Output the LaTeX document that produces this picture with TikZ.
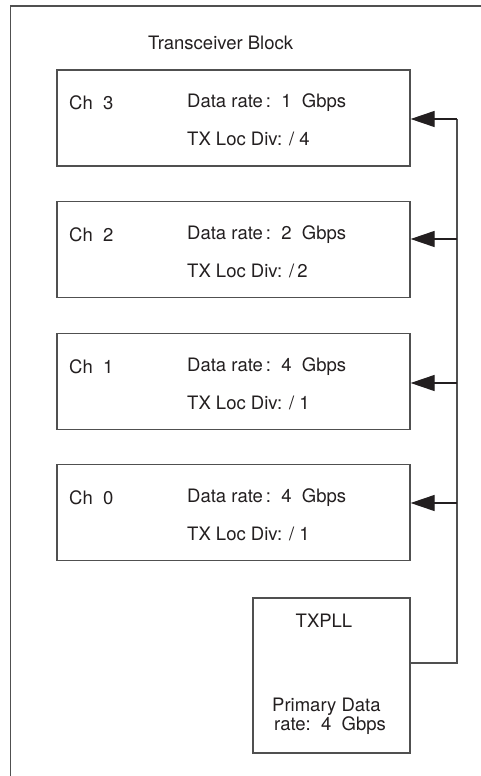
\documentclass[tikz,border=0pt]{standalone}
\usepackage{fontspec}
\setmainfont{TeX Gyre Heros}
\usetikzlibrary{arrows.meta,positioning}
\definecolor{inkc}{HTML}{231F20}
\definecolor{linec}{HTML}{505050}
\tikzset{
  chbox/.style={
    draw=linec,rectangle,line width=1.2pt,
    minimum width=353pt,minimum height=96pt,inner sep=0pt
  },
  pllbox/.style={
    draw=linec,rectangle,line width=1.2pt,
    minimum width=157pt,minimum height=155pt,inner sep=0pt
  },
  lbl/.style={anchor=base west,inner sep=0pt,text=inkc,
    font=\fontsize{18.5}{21}\selectfont},
  wire/.style={draw=linec,line width=1.2pt},
  conn/.style={-{Triangle[length=24pt,width=16pt]},draw=linec,
    line width=1.2pt,color=inkc}
}
\begin{document}
\begin{tikzpicture}[x=1pt,y=-1pt]
\useasboundingbox (0,0) rectangle (481,776);

\draw[wire] (481,6) -- (10.5,6) -- (10.5,776);
\node[lbl] (title) at (148,49) {Transceiver Block};

\node[chbox] (ch3) at (233.5,118) {};
\node[lbl] (ch3name) at (69,109) {Ch\ \ 3};
\node[lbl] (ch3rate) at (187,107) {Data rate\,:\ \ 1\ \ Gbps};
\node[lbl] (ch3div) at (187,145) {TX Loc Div: / 4};

\node[chbox] (ch2) at (233.5,249.5) {};
\node[lbl] (ch2name) at (69,241) {Ch\ \ 2};
\node[lbl] (ch2rate) at (187,239) {Data rate\,:\ \ 2\ \ Gbps};
\node[lbl] (ch2div) at (187,277) {TX Loc Div: /\,2};

\node[chbox] (ch1) at (233.5,381.5) {};
\node[lbl] (ch1name) at (69,373) {Ch\ \ 1};
\node[lbl] (ch1rate) at (187,371) {Data rate\,:\ \ 4\ \ Gbps};
\node[lbl] (ch1div) at (187,409) {TX Loc Div: / 1};

\node[chbox] (ch0) at (233.5,512.5) {};
\node[lbl] (ch0name) at (69,504) {Ch\ \ 0};
\node[lbl] (ch0rate) at (187,502) {Data rate\,:\ \ 4\ \ Gbps};
\node[lbl] (ch0div) at (187,540) {TX Loc Div: / 1};

\node[pllbox] (pll) at (331.5,675.5) {};
\node[lbl,anchor=base] (pllname) at (324,627) {TXPLL};
\node[lbl] (pllrate1) at (272,711) {Primary Data};
\node[lbl] (pllrate2) at (274,730) {rate:\ \ 4\ \ Gbps};

\coordinate (fb) at (457,663);
\coordinate (tap3) at (457,119);
\coordinate (tap2) at (457,239);
\coordinate (tap1) at (457,383);
\coordinate (tap0) at (457,503);

\draw[wire] (fb -| pll.east) -- (fb) -- (tap3);
\draw[conn] (tap3) -- (tap3 -| ch3.east);
\draw[conn] (tap2) -- (tap2 -| ch2.east);
\draw[conn] (tap1) -- (tap1 -| ch1.east);
\draw[conn] (tap0) -- (tap0 -| ch0.east);

\end{tikzpicture}
\end{document}
